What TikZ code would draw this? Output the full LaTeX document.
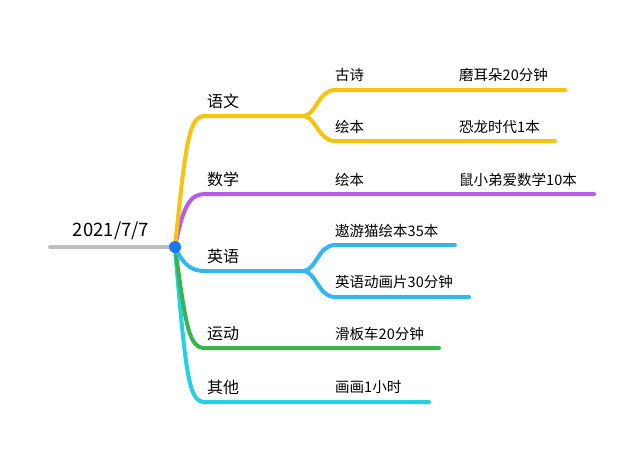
\documentclass[tikz,border=0pt]{standalone}
\usepackage{fontspec}
\newfontfamily\cjk{Noto Sans CJK SC}
\begin{document}
\begin{tikzpicture}[x=1pt,y=-1pt,
  br/.style={line width=4pt,line cap=round},
  lab/.style={anchor=west,inner sep=0pt,font=\cjk\fontsize{14.5}{16}\selectfont},
  mlab/.style={anchor=west,inner sep=0pt,font=\cjk\fontsize{16}{18}\selectfont}]
\definecolor{cyel}{HTML}{F9C20C}
\definecolor{cpur}{HTML}{B65CE8}
\definecolor{cblu}{HTML}{32B6F4}
\definecolor{cgrn}{HTML}{3AB54E}
\definecolor{ccya}{HTML}{22D2E4}
\definecolor{cgry}{HTML}{BDBDC0}
\definecolor{cdot}{HTML}{1A78F2}
\useasboundingbox (0,0) rectangle (644,452);
\fill[white] (0,0) rectangle (644,452);
% coordinates
\coordinate (root) at (175,247);
\coordinate (rl) at (50,247);
\coordinate (y0) at (205,116); \coordinate (y1) at (303,116);
\coordinate (ya) at (335,90); \coordinate (yae) at (565,90);
\coordinate (yb) at (335,141); \coordinate (ybe) at (555,141);
\coordinate (p0) at (205,194); \coordinate (pe) at (594,194);
\coordinate (b0) at (205,271); \coordinate (b1) at (303,271);
\coordinate (ba) at (335,245); \coordinate (bae) at (455,245);
\coordinate (bb) at (335,297); \coordinate (bbe) at (469,297);
\coordinate (g0) at (205,348); \coordinate (ge) at (439,348);
\coordinate (c0) at (205,402); \coordinate (ce) at (429,402);
% branches
\draw[br,cgry] (rl) -- (root);
\draw[br,ccya] (root) .. controls (186,380) and (189,402) .. (c0) -- (ce);
\draw[br,cgrn] (root) .. controls (186,328) and (189,348) .. (g0) -- (ge);
\draw[br,cblu] (root) .. controls (184,266) and (192,271) .. (b0) -- (b1);
\draw[br,cblu] (b1) .. controls (316,271) and (318,245) .. (ba) -- (bae);
\draw[br,cblu] (b1) .. controls (316,271) and (318,297) .. (bb) -- (bbe);
\draw[br,cpur] (root) .. controls (183,206) and (190,194) .. (p0) -- (pe);
\draw[br,cyel] (root) .. controls (186,140) and (189,116) .. (y0) -- (y1);
\draw[br,cyel] (y1) .. controls (316,116) and (318,90) .. (ya) -- (yae);
\draw[br,cyel] (y1) .. controls (316,116) and (318,141) .. (yb) -- (ybe);
\fill[cdot] (root) circle (6);
% labels
\node[anchor=center,inner sep=0pt,font=\cjk\fontsize{18.5}{20}\selectfont] (rt) at (111,231) {2021/7/7};
\node[mlab] (n1) at (207,101) {语文};
\node[mlab] (n2) at (207,179) {数学};
\node[mlab] (n3) at (207,256) {英语};
\node[mlab] (n4) at (207,334) {运动};
\node[mlab] (n5) at (207,387) {其他};
\node[lab] (t1) at (335,75) {古诗};
\node[lab] (t1b) at (459,75) {磨耳朵20分钟};
\node[lab] (t2) at (335,127) {绘本};
\node[lab] (t2b) at (459,127) {恐龙时代1本};
\node[lab] (t3) at (335,180) {绘本};
\node[lab] (t3b) at (459,180) {鼠小弟爱数学10本};
\node[lab] (t4) at (335,231) {遨游猫绘本35本};
\node[lab] (t5) at (335,282) {英语动画片30分钟};
\node[lab] (t6) at (335,334) {滑板车20分钟};
\node[lab] (t7) at (335,387) {画画1小时};
\end{tikzpicture}
\end{document}
